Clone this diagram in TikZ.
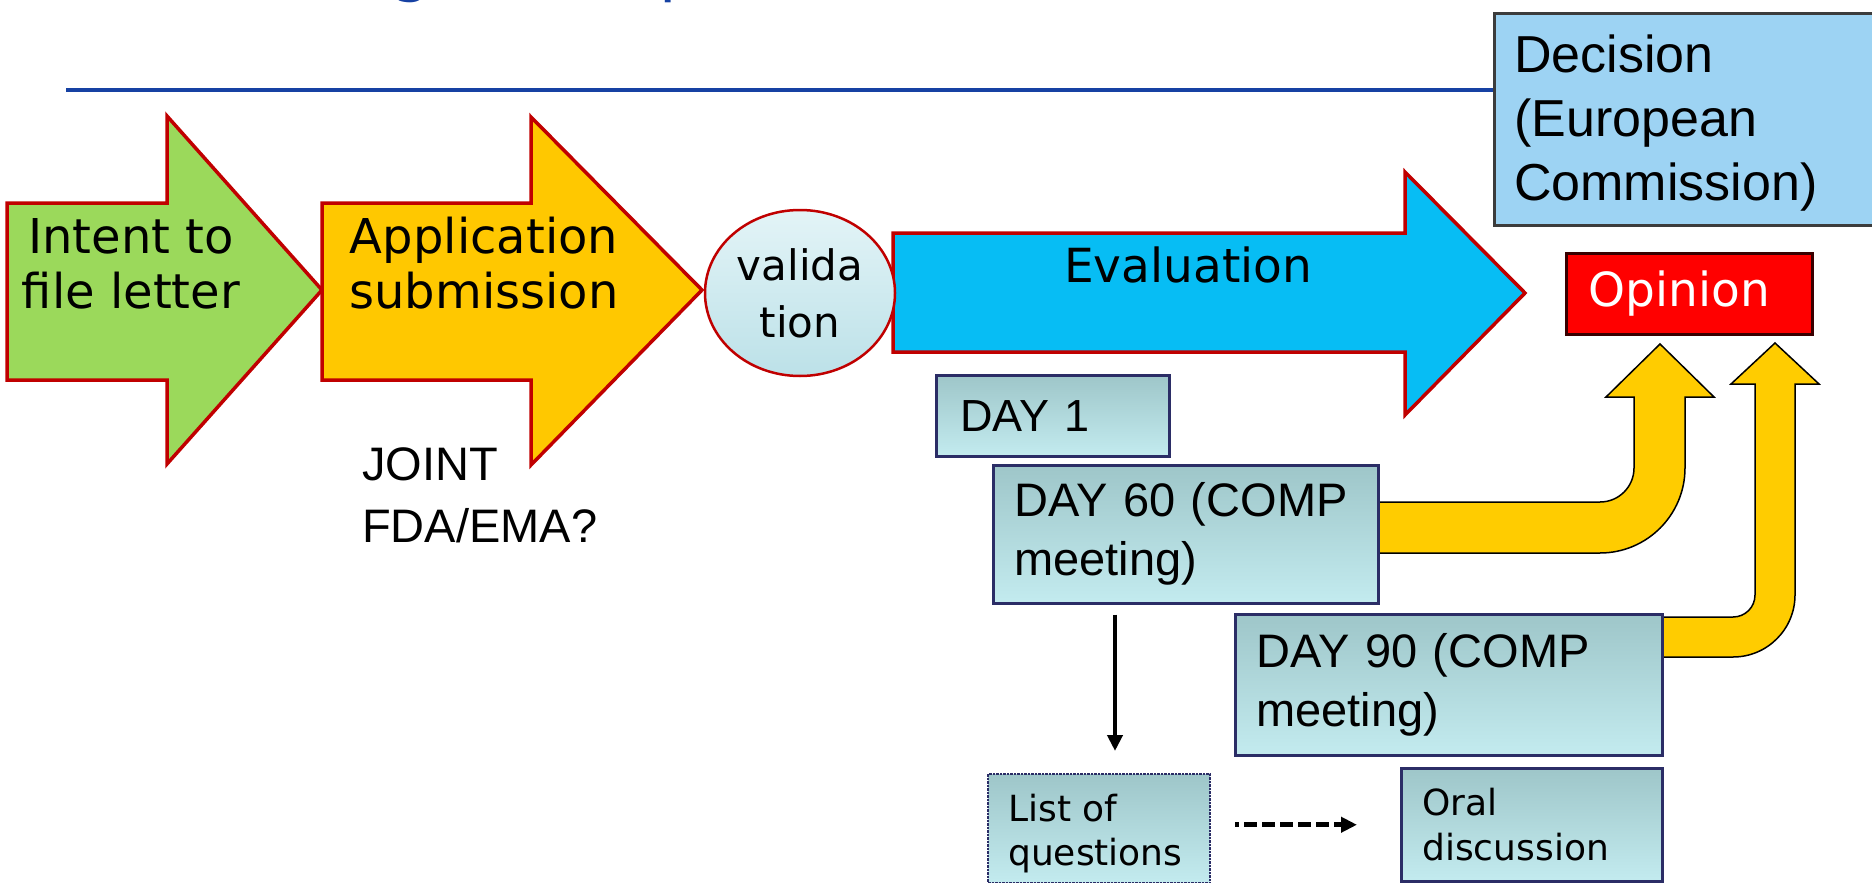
\documentclass[tikz,border=0pt]{standalone}
\usepackage{fontspec}
\setmainfont{Liberation Sans}
\newfontfamily\verdfont{DejaVu Sans}
\usetikzlibrary{arrows.meta,shapes.geometric}

\definecolor{titleblue}{HTML}{1641A3}
\definecolor{arrowred}{HTML}{C00000}
\definecolor{greenfill}{HTML}{9BD95B}
\definecolor{yellowfill}{HTML}{FFC800}
\definecolor{bluefill}{HTML}{07BDF4}
\definecolor{validtop}{HTML}{E3F4F7}
\definecolor{validbot}{HTML}{BCE1E8}
\definecolor{daytop}{HTML}{9EC6C9}
\definecolor{daybot}{HTML}{C3EBEF}
\definecolor{boxnavy}{HTML}{2B2D66}
\definecolor{decfill}{HTML}{9DD3F3}
\definecolor{decline}{HTML}{3C3C3C}
\definecolor{opline}{HTML}{3A0000}
\definecolor{bendyellow}{HTML}{FFCC00}

\begin{document}
\begin{tikzpicture}[x=1pt,y=-1pt,
  blockarrow/.style={draw=arrowred, line width=3.5pt, line join=miter},
  arrowtext/.style={anchor=base, align=center, inner sep=0pt, font=\verdfont\fontsize{48}{55}\selectfont},
  daybox/.style={rectangle, draw=boxnavy, line width=2.5pt, top color=daytop, bottom color=daybot,
    anchor=north west, align=left, inner xsep=21pt, inner ysep=0pt, font=\fontsize{47}{59}\selectfont},
  smallbox/.style={daybox, font=\verdfont\fontsize{36}{45}\selectfont},
  bentarrow/.style={fill=bendyellow, draw=black, line width=1.5pt, line join=miter},
  thinarrow/.style={line width=4pt, -{Triangle[width=15pt,length=16pt]}}]

\useasboundingbox (0,0) rectangle (1872,883);
\clip (0,0) rectangle (1872,883);

% title, cut off at the top
\node[anchor=base west, inner sep=0pt, text=titleblue, font=\verdfont\fontsize{64}{64}\selectfont] (titleg) at (391,-10) {g};
\node[anchor=base west, inner sep=0pt, text=titleblue, font=\verdfont\fontsize{64}{64}\selectfont] (titlep) at (659,-10) {p};

% draw horizontal line
\draw[titleblue, line width=3.5pt] (66,90) -- (1872,90);

% decision box
\node[rectangle, draw=decline, line width=3pt, fill=decfill, anchor=north west,
  minimum width=379pt, minimum height=212pt] (dec) at (1493,12) {};
\node[anchor=base west, align=left, inner sep=0pt, font=\fontsize{52}{64}\selectfont] (dectext) at (1514,200) {Decision\\(European\\Commission)};

% draw the three big arrows
\filldraw[blockarrow, fill=greenfill] (7,203) -- (167,203) -- (167,116) -- (322,290) -- (167,464) -- (167,380) -- (7,380) -- cycle;
\filldraw[blockarrow, fill=yellowfill] (322,203) -- (531,203) -- (531,117) -- (702,290) -- (531,465) -- (531,380) -- (322,380) -- cycle;
\filldraw[blockarrow, fill=bluefill] (893,233) -- (1405,233) -- (1405,172) -- (1525,293) -- (1405,415) -- (1405,352) -- (893,352) -- cycle;

\node[arrowtext] (intent) at (131,308) {Intent to\\file letter};
\node[arrowtext] (appl) at (484,308) {Application\\submission};
\node[arrowtext, font=\verdfont\fontsize{47}{56}\selectfont] (eval) at (1188,282) {Evaluation};

% validation ellipse
\node[ellipse, draw=arrowred, line width=2.5pt, top color=validtop, bottom color=validbot,
  minimum width=190pt, minimum height=166pt, inner sep=0pt, align=center,
  font=\verdfont\fontsize{42}{57}\selectfont] (valid) at (800,293) {valida\\tion};

% opinion box
\node[rectangle, draw=opline, line width=3pt, fill=red, text=white, anchor=north west, align=left,
  minimum width=246pt, minimum height=81pt, text width=202pt, inner xsep=22pt, inner ysep=0pt,
  font=\verdfont\fontsize{47}{56}\selectfont] (op) at (1565,252) {Opinion};

% draw the bent yellow arrows up to the opinion
\filldraw[bentarrow] (1370,502) -- (1600,502) .. controls (1618.8,502) and (1634,486.8) .. (1634,468)
  -- (1634,397) -- (1606,397) -- (1660,344) -- (1714,397) -- (1685,397) -- (1685,468)
  .. controls (1685,514.9) and (1646.9,553) .. (1600,553) -- (1370,553) -- cycle;
\filldraw[bentarrow] (1655,617) -- (1733,617) .. controls (1745.2,617) and (1755,607.2) .. (1755,595)
  -- (1755,384) -- (1731,384) -- (1775,343) -- (1819,384) -- (1795,384) -- (1795,595)
  .. controls (1795,629.2) and (1767.2,657) .. (1733,657) -- (1655,657) -- cycle;

% day boxes
\node[daybox, minimum width=233pt, minimum height=81pt, text width=185pt, inner xsep=24pt,
  font=\fontsize{45}{56}\selectfont] (d1) at (935,374) {DAY 1};
\node[daybox, minimum width=385pt, minimum height=138pt, text width=343pt] (d60) at (992,464) {DAY 60 (COMP\\meeting)};
\node[daybox, minimum width=427pt, minimum height=141pt, text width=385pt] (d90) at (1234,613) {DAY 90 (COMP\\meeting)};

% questions and oral discussion
\node[smallbox, draw=boxnavy, densely dotted, line width=2pt, minimum width=222pt, minimum height=109pt] (lq) at (987,773) {};
\node[anchor=base west, align=left, inner sep=0pt, font=\verdfont\fontsize{36}{44}\selectfont] (lqtext) at (1008,865) {List of\\questions};
\node[smallbox, minimum width=261pt, minimum height=113pt, text width=219pt] (ol) at (1400,767) {Oral\\discussion};

\coordinate (qtop) at ([xshift=16pt]lq.north);
\draw[thinarrow, shorten <=10pt, shorten >=22pt] (qtop |- d60.south) -- (qtop);
\draw[thinarrow, line width=5pt, dash pattern=on 13pt off 5pt, dash phase=9pt, shorten <=24pt, shorten >=43pt] (lq.east |- ol.west) -- (ol.west);

% joint text
\node[anchor=base west, align=left, inner sep=0pt, font=\fontsize{47}{62}\selectfont] (joint) at (362,542) {JOINT\\FDA/EMA?};
\end{tikzpicture}
\end{document}
